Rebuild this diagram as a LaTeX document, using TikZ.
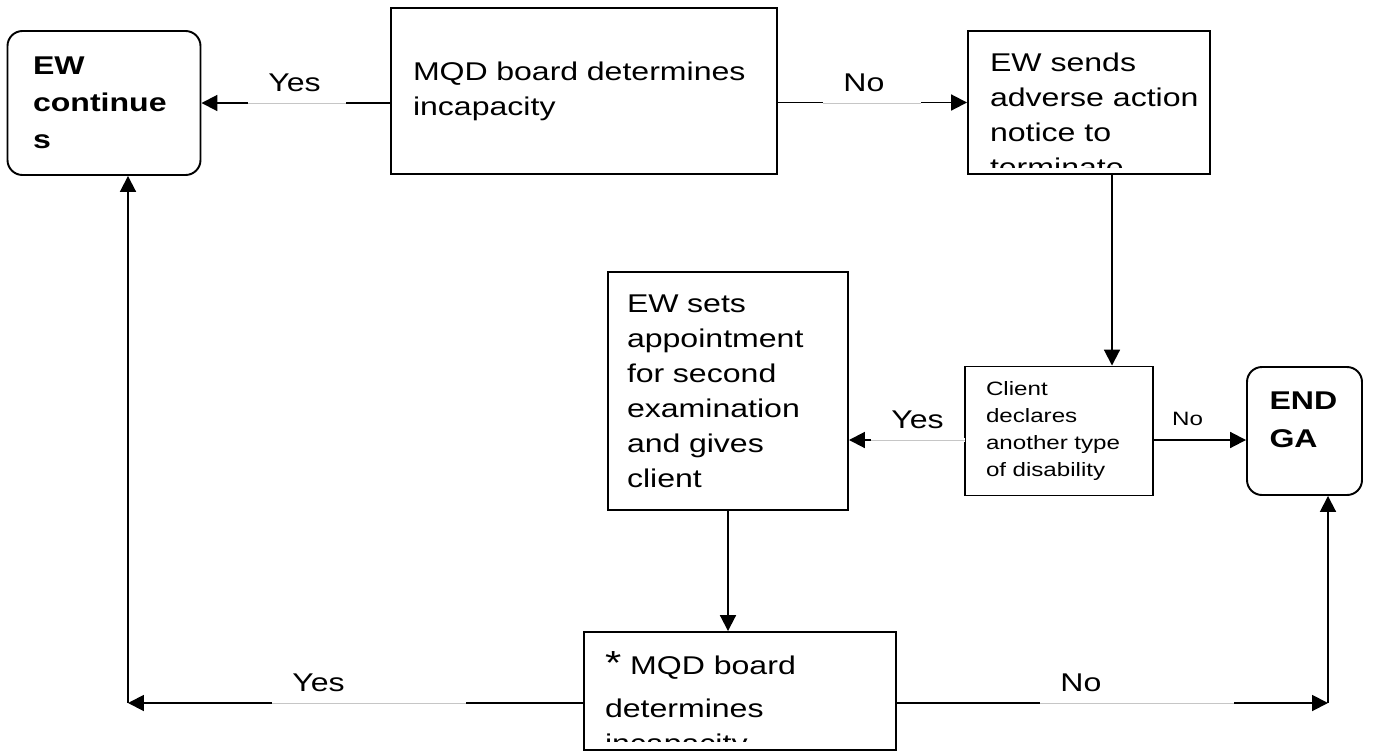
\documentclass[tikz,border=0pt]{standalone}
\usepackage{fontspec}
\setmainfont{Liberation Sans}[FakeStretch=1.25]
\usetikzlibrary{arrows.meta}

% text sizes
\newcommand{\txtMain}{\fontsize{14.6}{19.9}\selectfont}
\newcommand{\txtBold}{\fontsize{14.6}{21.2}\selectfont\bfseries}
\newcommand{\txtSmall}{\fontsize{11}{15.3}\selectfont}

\tikzset{
  procbox/.style={draw, line width=1.1pt, align=left, inner sep=0pt, font=\txtMain},
  endbox/.style={procbox, rounded corners=0.3cm, font=\txtBold},
  flow/.style={line width=1.1pt, -{Triangle[length=9pt,width=9pt]}},
  answer/.style={fill=white, anchor=south west, align=left, inner xsep=0.4cm,
    inner ysep=0.22cm, text depth=0pt, font=\txtMain},
  gapline/.style={white, line width=1.8pt, postaction={draw=gray!45, line width=0.5pt}}
}

\begin{document}
\begin{tikzpicture}[x=0.02cm, y=-0.02cm]
% one unit = one pixel, y grows downwards
\def\pix{0.02cm}
\useasboundingbox (0,0) rectangle (1374,751);

% top row
\node[endbox, minimum width=193*\pix, minimum height=144*\pix, text width=142*\pix] (cont) at (104,103) {EW\\continue\\s};
\node[procbox, minimum width=386*\pix, minimum height=166*\pix, text width=342*\pix] (mqdTop) at (584,91) {MQD board determines\\incapacity};
\node[procbox, minimum width=242*\pix, minimum height=143*\pix] (sends) at (1089,102.5) {};

% middle row
\node[procbox, minimum width=240*\pix, minimum height=238*\pix, text width=202*\pix] (sets) at (728,391) {EW sets\\appointment\\for second\\examination\\and gives\\client};
\node[procbox, font=\txtSmall, minimum width=188*\pix, minimum height=129*\pix, text width=146*\pix] (client) at (1059,431) {Client\\declares\\another type\\of disability};
\node[endbox, minimum width=115*\pix, minimum height=128*\pix, text width=70*\pix, text depth=1.2cm] (endga) at (1304.5,431) {END\\GA};

% bottom row
\node[procbox, minimum width=312*\pix, minimum height=118*\pix] (mqdLow) at (740,691) {};

% texts cut off at the bottom of their boxes
\begin{scope}
  \clip (sends.north west) rectangle ([shift={(0,-7)}]sends.south east);
  \node[procbox, draw=none, anchor=north west] (sendsText) at ([shift={(22,22)}]sends.north west) {EW sends\\adverse action\\notice to\\terminate};
\end{scope}
\begin{scope}
  \clip (mqdLow.north west) rectangle ([shift={(0,-9)}]mqdLow.south east);
  \node[procbox, draw=none, anchor=north west] (mqdLowText) at ([shift={(21,20)}]mqdLow.north west) {{\fontsize{19}{20}\selectfont *} MQD board\\[0.15cm]determines\\incapacity};
\end{scope}

% connectors
\draw[flow] (mqdTop.west |- cont.east) -- (cont.east);
\draw[flow] (mqdTop.east |- sends.west) -- (sends.west);
\coordinate (down) at (1112,0);
\draw[flow] (down |- sends.south) -- (down |- client.north);
\draw[flow] (sets.south) -- (sets.south |- mqdLow.north);
\coordinate (mid) at (0,440);
\draw[flow] (mid -| client.west) -- (mid -| sets.east);
\draw[flow] (mid -| client.east) -- (mid -| endga.west);
\coordinate (cornerL) at (128,703);
\coordinate (cornerR) at (1328,703);
\draw[flow] (cornerL -| mqdLow.west) -- (cornerL);
\draw[flow] (cornerL) -- (cornerL |- cont.south);
\draw[flow] (cornerR -| mqdLow.east) -- (cornerR);
\draw[flow] (cornerR) -- (cornerR |- endga.south);

% answers on the connectors
\node[answer, text width=57*\pix] (yesTop) at (248,103) {Yes};
\draw[gapline] (yesTop.south west) -- (yesTop.south east);
\node[answer, text width=57*\pix] (noTop) at (823,103) {No};
\draw[gapline] (noTop.south west) -- (noTop.south east);
\node[answer, text width=53*\pix] (yesMid) at (871,440) {Yes};
\draw[gapline] (yesMid.south west) -- (yesMid.south east);
\node[font=\txtSmall, anchor=base, inner sep=0pt] (noMid) at (1187.5,425) {No};
\node[answer, text width=153*\pix] (yesLow) at (272,703) {Yes};
\draw[gapline] (yesLow.south west) -- (yesLow.south east);
\node[answer, text width=153*\pix] (noLow) at (1040,703) {No};
\draw[gapline] (noLow.south west) -- (noLow.south east);

\end{tikzpicture}
\end{document}
